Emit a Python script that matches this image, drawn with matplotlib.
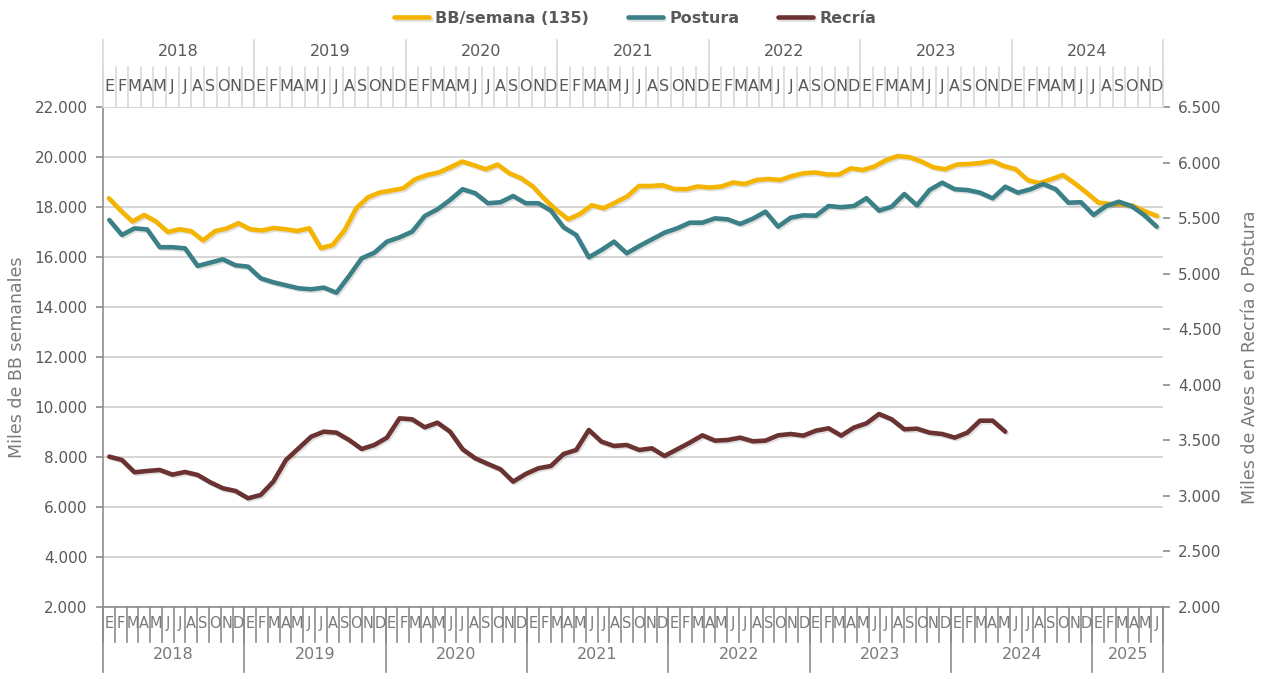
import matplotlib
matplotlib.use('Agg')
import matplotlib.pyplot as plt
import matplotlib.patheffects as pe
from matplotlib import font_manager
from matplotlib.transforms import blended_transform_factory
from matplotlib.ticker import FuncFormatter, MultipleLocator

# monthly data
meses = list('EFMAMJJASOND')
anios_bb = ['2018', '2019', '2020', '2021', '2022', '2023', '2024', '2025']
anios_aves = ['2018', '2019', '2020', '2021', '2022', '2023', '2024']

# BB/semana, Jan 2018 - Jun 2025 (left axis, bottom categories)
bb_semana = [18360, 17870, 17430, 17690, 17430, 17010, 17120, 17040, 16670, 17040, 17150, 17360,
             17120, 17070, 17170, 17120, 17050, 17160, 16360, 16490, 17070, 17960, 18400, 18590,
             18670, 18760, 19120, 19290, 19390, 19600, 19830, 19680, 19520, 19710, 19360, 19160,
             18830, 18320, 17890, 17520, 17730, 18080, 17960, 18190, 18430, 18850, 18850, 18880,
             18730, 18720, 18830, 18790, 18830, 18990, 18930, 19090, 19130, 19090, 19250, 19360,
             19390, 19310, 19310, 19560, 19490, 19630, 19890, 20050, 20000, 19830, 19600, 19520,
             19710, 19730, 19770, 19850, 19650, 19520, 19090, 18960, 19120, 19290, 18960, 18590,
             18190, 18130, 18120, 18050, 17830, 17650]

# Postura, Jan 2018 - Dec 2024 (right axis, top categories)
postura = [5485, 5350, 5410, 5400, 5240, 5240, 5230, 5071, 5101, 5131, 5077, 5065,
           4960, 4924, 4897, 4870, 4861, 4876, 4830, 4980, 5140, 5190, 5290, 5329,
           5380, 5521, 5581, 5665, 5762, 5726, 5636, 5645, 5701, 5636, 5636, 5569,
           5419, 5350, 5149, 5215, 5290, 5185, 5251, 5311, 5371, 5410, 5461, 5461,
           5500, 5491, 5449, 5497, 5560, 5425, 5506, 5527, 5524, 5611, 5600, 5611,
           5681, 5569, 5605, 5719, 5617, 5755, 5821, 5762, 5755, 5731, 5680, 5785,
           5731, 5762, 5809, 5762, 5641, 5645, 5530, 5611, 5650, 5611, 5530, 5425]

# Recria, Jan 2018 - Dec 2023 (right axis, top categories)
recria = [3354, 3324, 3213, 3225, 3234, 3192, 3216, 3189, 3123, 3069, 3045, 2979,
          3009, 3129, 3324, 3429, 3534, 3579, 3570, 3504, 3423, 3459, 3525, 3699,
          3690, 3618, 3660, 3579, 3420, 3339, 3288, 3240, 3129, 3198, 3249, 3270,
          3378, 3414, 3594, 3489, 3450, 3459, 3414, 3429, 3360, 3420, 3480, 3546,
          3498, 3504, 3525, 3492, 3498, 3546, 3558, 3543, 3588, 3609, 3543, 3615,
          3654, 3738, 3690, 3600, 3606, 3570, 3558, 3525, 3570, 3678, 3678, 3579]

gris = '#595959'
gris_claro = '#7a7a7a'
gris_eje = '#8c8c8c'
c_bb, c_post, c_rec = '#F4B400', '#3B7F87', '#6B3232'

plt.rcParams['font.family'] = ['DejaVu Sans']

def fuente_angosta():
    for f in ['Liberation Sans Narrow', 'DejaVu Sans Condensed']:
        try:
            font_manager.findfont(f, fallback_to_default=False)
            return f
        except Exception:
            pass
    return 'DejaVu Sans'

angosta = fuente_angosta()
miles = FuncFormatter(lambda v, p: '{:,.0f}'.format(v).replace(',', '.'))
sombra = [pe.SimpleLineShadow(offset=(1.2, -1.2), alpha=0.12), pe.Normal()]

fig = plt.figure(figsize=(12.7, 6.79), dpi=100)
pos = [103 / 1270, 1 - 607 / 679, 1060 / 1270, 499.7 / 679]
ax = fig.add_axes(pos)
ax2 = fig.add_axes(pos, frameon=False)

n_bb = len(bb_semana)
n_aves = len(anios_aves) * 12

# primary: BB/semana
ax.plot(range(n_bb), bb_semana, color=c_bb, lw=3.3, solid_joinstyle='round',
        solid_capstyle='round', path_effects=sombra, label='BB/semana (135)')
ax.set_xlim(-0.5, n_bb - 0.5)
ax.set_ylim(2000, 22000)
ax.yaxis.set_major_locator(MultipleLocator(2000))
ax.yaxis.set_major_formatter(miles)
ax.grid(axis='y', color='#d0d0d0', lw=1.2)
ax.set_axisbelow(True)
ax.set_xticks([])
for s in ['top', 'right']:
    ax.spines[s].set_visible(False)
ax.spines['left'].set_color(gris_eje)
ax.spines['bottom'].set_color(gris_eje)
ax.spines['left'].set_linewidth(1.2)
ax.spines['bottom'].set_linewidth(1.2)
ax.tick_params(axis='y', colors=gris_eje, labelcolor=gris, labelsize=11, length=5, width=1.2, pad=6)
ax.set_ylabel('Miles de BB semanales', color=gris_claro, fontsize=12.5, labelpad=6)

# secondary: Postura y Recria
ax2.plot(range(n_aves), postura, color=c_post, lw=3.3, solid_joinstyle='round',
         solid_capstyle='round', path_effects=sombra, label='Postura')
ax2.plot(range(len(recria)), recria, color=c_rec, lw=3.3, solid_joinstyle='round',
         solid_capstyle='round', path_effects=sombra, label='Recría')
ax2.set_xlim(-0.5, n_aves - 0.5)
ax2.set_ylim(2000, 6500)
ax2.set_xticks([])
ax2.yaxis.tick_right()
ax2.yaxis.set_label_position('right')
ax2.yaxis.set_major_locator(MultipleLocator(500))
ax2.yaxis.set_major_formatter(miles)
ax2.tick_params(axis='y', colors=gris_eje, labelcolor=gris, labelsize=11, length=5, width=1.2, pad=6)
ax2.spines['right'].set_visible(True)
ax2.spines['right'].set_color(gris_eje)
ax2.spines['right'].set_linewidth(1.2)
ax2.set_ylabel('Miles de Aves en Recría o Postura', color=gris_claro, fontsize=12.5, labelpad=14)

# bottom category axis (months + years)
tb = blended_transform_factory(ax.transData, ax.transAxes)
for i in range(n_bb + 1):
    ax.plot([i - 0.5, i - 0.5], [0, -0.07], transform=tb, color=gris_eje, lw=1.2, clip_on=False)
for i in range(n_bb):
    ax.text(i, -0.034, meses[i % 12], transform=tb, ha='center', va='center',
            fontsize=10.5, color=gris_claro, family=angosta, clip_on=False)
for k, a in enumerate(anios_bb):
    x0 = k * 12 - 0.5
    x1 = min(k * 12 + 11.5, n_bb - 0.5)
    ax.plot([x0, x0], [0, -0.13], transform=tb, color=gris_eje, lw=1.2, clip_on=False)
    ax.text((x0 + x1) / 2, -0.096, a, transform=tb, ha='center', va='center',
            fontsize=11.5, color=gris_claro, clip_on=False)
ax.plot([n_bb - 0.5, n_bb - 0.5], [0, -0.13], transform=tb, color=gris_eje, lw=1.2, clip_on=False)

# top category axis (months + years)
tt = blended_transform_factory(ax2.transData, ax2.transAxes)
for i in range(n_aves + 1):
    ax2.plot([i - 0.5, i - 0.5], [1.0, 1.081], transform=tt, color='#d9d9d9', lw=1.2, clip_on=False)
for i in range(n_aves):
    ax2.text(i, 1.041, meses[i % 12], transform=tt, ha='center', va='center',
             fontsize=11.5, color=gris, family=angosta, clip_on=False)
for k, a in enumerate(anios_aves):
    x0 = k * 12 - 0.5
    ax2.plot([x0, x0], [1.0, 1.135], transform=tt, color='#d9d9d9', lw=1.2, clip_on=False)
    ax2.text(x0 + 6, 1.111, a, transform=tt, ha='center', va='center',
             fontsize=11.5, color=gris, clip_on=False)
ax2.plot([n_aves - 0.5, n_aves - 0.5], [1.0, 1.135], transform=tt, color='#d9d9d9', lw=1.2, clip_on=False)

# legend
h1, l1 = ax.get_legend_handles_labels()
h2, l2 = ax2.get_legend_handles_labels()
leg = fig.legend(h1 + h2, l1 + l2, loc='upper center', bbox_to_anchor=(0.5, 1.005), ncol=3,
                 frameon=False, handlelength=2.2, columnspacing=2.4, handletextpad=0.4,
                 prop={'weight': 'bold', 'size': 11.5})
for t in leg.get_texts():
    t.set_color(gris)

fig.savefig('out.png', dpi=100)
